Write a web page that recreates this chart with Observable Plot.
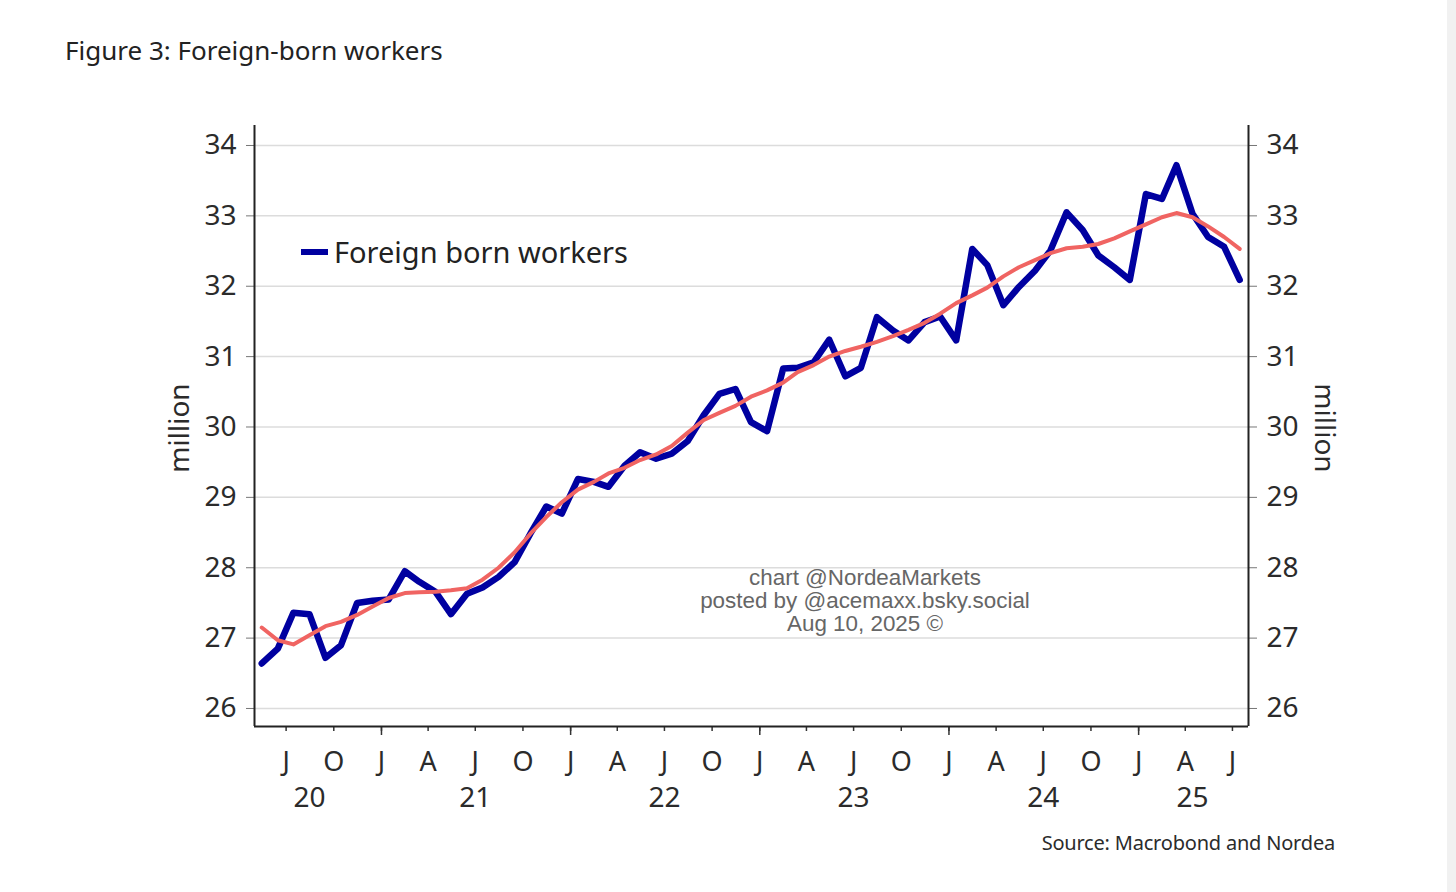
<!DOCTYPE html>
<html>
<head>
<meta charset="utf-8">
<script src="https://cdn.jsdelivr.net/npm/d3@7"></script>
<script src="https://cdn.jsdelivr.net/npm/@observablehq/plot@0.6"></script>
<style>
  html, body { margin: 0; padding: 0; background: #fff; }
  body { width: 1456px; height: 892px; position: relative; overflow: hidden; font-family: "Noto Sans", sans-serif; }
  #title { position: absolute; left: 65px; top: 37px; font-size: 26px; line-height: 26px; color: #222; white-space: nowrap; }
  #chart { position: absolute; left: 0; top: 0; }
  #legend { position: absolute; left: 301px; top: 237px; font-size: 29px; line-height: 29px; color: #222; white-space: nowrap; display: flex; align-items: center; }
  #legend .sw { display: inline-block; width: 27px; height: 6px; background: #0000a0; margin-right: 6px; }
  #watermark { position: absolute; left: 665px; width: 400px; top: 566px; text-align: center; font-family: "Liberation Sans", Arial, sans-serif; font-size: 22.4px; line-height: 23px; color: #666; }
  #source { position: absolute; right: 121px; top: 833px; font-size: 20px; line-height: 20px; color: #2b2b2b; white-space: nowrap; letter-spacing: -0.2px; }
  #strip { position: absolute; right: 0; top: 0; width: 9px; height: 892px; background: #f1f1f1; }
</style>
</head>
<body>
<div id="chart"></div>
<div id="title"></div>
<div id="legend"><span class="sw"></span><span id="legendText"></span></div>
<div id="watermark"></div>
<div id="source"></div>
<div id="strip"></div>
<script>
// ---- data ----
const titleText = "Figure 3: Foreign-born workers";
const seriesName = "Foreign born workers";
const unitLabel = "million";
const sourceText = "Source: Macrobond and Nordea";
const watermarkLines = ["chart @NordeaMarkets", "posted by @acemaxx.bsky.social", "Aug 10, 2025 \u00a9"];

const months = [
  "2020-05","2020-06","2020-07","2020-08","2020-09","2020-10","2020-11","2020-12",
  "2021-01","2021-02","2021-03","2021-04","2021-05","2021-06","2021-07","2021-08","2021-09","2021-10","2021-11","2021-12",
  "2022-01","2022-02","2022-03","2022-04","2022-05","2022-06","2022-07","2022-08","2022-09","2022-10","2022-11","2022-12",
  "2023-01","2023-02","2023-03","2023-04","2023-05","2023-06","2023-07","2023-08","2023-09","2023-10","2023-11","2023-12",
  "2024-01","2024-02","2024-03","2024-04","2024-05","2024-06","2024-07","2024-08","2024-09","2024-10","2024-11","2024-12",
  "2025-01","2025-02","2025-03","2025-04","2025-05","2025-06","2025-07"
];

// Foreign born workers (million)
const foreignBorn = [
  26.64,26.85,27.36,27.34,26.72,26.90,27.50,27.53,
  27.55,27.95,27.80,27.66,27.34,27.63,27.72,27.87,28.08,28.48,28.87,28.77,
  29.26,29.22,29.15,29.45,29.64,29.55,29.62,29.80,30.17,30.47,30.54,30.07,
  29.94,30.83,30.84,30.92,31.24,30.72,30.84,31.56,31.37,31.23,31.49,31.57,
  31.23,32.53,32.30,31.73,31.99,32.22,32.51,33.05,32.80,32.44,32.27,32.09,
  33.31,33.24,33.72,33.03,32.70,32.56,32.09
];

// smoothed trend (red line)
const trend = [
  27.15,26.97,26.91,27.04,27.17,27.23,27.33,27.45,
  27.57,27.64,27.65,27.66,27.68,27.71,27.83,28.00,28.22,28.48,28.72,28.93,
  29.11,29.22,29.34,29.42,29.53,29.61,29.73,29.92,30.10,30.20,30.30,30.43,
  30.52,30.63,30.78,30.88,31.00,31.08,31.14,31.21,31.29,31.38,31.48,31.61,
  31.76,31.87,31.98,32.14,32.27,32.37,32.47,32.54,32.56,32.60,32.68,32.78,
  32.88,32.98,33.04,32.98,32.85,32.70,32.53
];

const yTicks = [26, 27, 28, 29, 30, 31, 32, 33, 34];
const yDomain = [25.744, 34.284];
const xDomain = ["2020-05-01", "2025-08-01"];

const quarterTicks = [
  "2020-07-01","2020-10-01",
  "2021-01-01","2021-04-01","2021-07-01","2021-10-01",
  "2022-01-01","2022-04-01","2022-07-01","2022-10-01",
  "2023-01-01","2023-04-01","2023-07-01","2023-10-01",
  "2024-01-01","2024-04-01","2024-07-01","2024-10-01",
  "2025-01-01","2025-04-01","2025-07-01"
];
const quarterLabels = ["J","O","J","A","J","O","J","A","J","O","J","A","J","O","J","A","J","O","J","A","J"];
const yearTicks = ["2021-01-01","2022-01-01","2023-01-01","2024-01-01","2025-01-01"];
const yearLabelDates = ["2020-08-15","2021-07-01","2022-07-01","2023-07-01","2024-07-01","2025-04-15"];
const yearLabels = ["20","21","22","23","24","25"];

// ---- build ----
const toDate = s => new Date(s);
const data = months.map((m, i) => ({date: new Date(m + "-15"), fb: foreignBorn[i], trend: trend[i]}));
const qMap = new Map(quarterTicks.map((d, i) => [+toDate(d), quarterLabels[i]]));
const yMap = new Map(yearLabelDates.map((d, i) => [+toDate(d), yearLabels[i]]));
const xd = xDomain.map(toDate);

const textColor = "#2b2b2b";
const chart = Plot.plot({
  width: 1456,
  height: 892,
  marginTop: 125,
  marginBottom: 166,
  marginLeft: 254,
  marginRight: 208,
  x: {type: "utc", domain: xd},
  y: {domain: yDomain},
  style: {fontFamily: "'Noto Sans', sans-serif", fontSize: "28px", color: textColor, background: "transparent", overflow: "visible"},
  marks: [
    Plot.gridY(yTicks, {stroke: "#dcdcdc", strokeOpacity: 1, strokeWidth: 1.5}),
    Plot.axisY(yTicks, {anchor: "left", tickSize: 8, tickPadding: 10, stroke: "#777", fill: textColor, fontSize: 28, label: null, tickFormat: d => String(d)}),
    Plot.axisY(yTicks, {anchor: "right", tickSize: 8, tickPadding: 10, stroke: "#777", fill: textColor, fontSize: 28, label: null, tickFormat: d => String(d)}),
    Plot.axisX(quarterTicks.map(toDate), {anchor: "bottom", tickSize: 5, tickPadding: 20, stroke: "#333", strokeWidth: 1.5, fill: textColor, fontSize: 27, label: null, tickFormat: d => qMap.get(+d)}),
    Plot.axisX(yearTicks.map(toDate), {anchor: "bottom", tickSize: 9, stroke: "#333", strokeWidth: 1.5, label: null, tickFormat: () => ""}),
    Plot.axisX(yearLabelDates.map(toDate), {anchor: "bottom", tickSize: 0, tickPadding: 61, fill: textColor, fontSize: 28, label: null, tickFormat: d => yMap.get(+d)}),
    Plot.ruleX([xd[0]], {stroke: "#222", strokeWidth: 2}),
    Plot.ruleX([xd[1]], {stroke: "#222", strokeWidth: 2}),
    Plot.ruleY([yDomain[0]], {stroke: "#222", strokeWidth: 2}),
    Plot.line(data, {x: "date", y: "fb", stroke: "#0000a0", strokeWidth: 6.5}),
    Plot.line(data, {x: "date", y: "trend", stroke: "#f06462", strokeWidth: 4}),
    Plot.text([unitLabel], {frameAnchor: "left", textAnchor: "middle", rotate: -90, dx: -74, dy: 2, fontSize: 28, fill: textColor}),
    Plot.text([unitLabel], {frameAnchor: "right", textAnchor: "middle", rotate: 90, dx: 75, dy: 2, fontSize: 28, fill: textColor})
  ]
});
document.getElementById("chart").appendChild(chart);
document.getElementById("title").textContent = titleText;
document.getElementById("legendText").textContent = seriesName;
document.getElementById("source").textContent = sourceText;
document.getElementById("watermark").innerHTML = watermarkLines.map(l => `<div>${l}</div>`).join("");
</script>
</body>
</html>
